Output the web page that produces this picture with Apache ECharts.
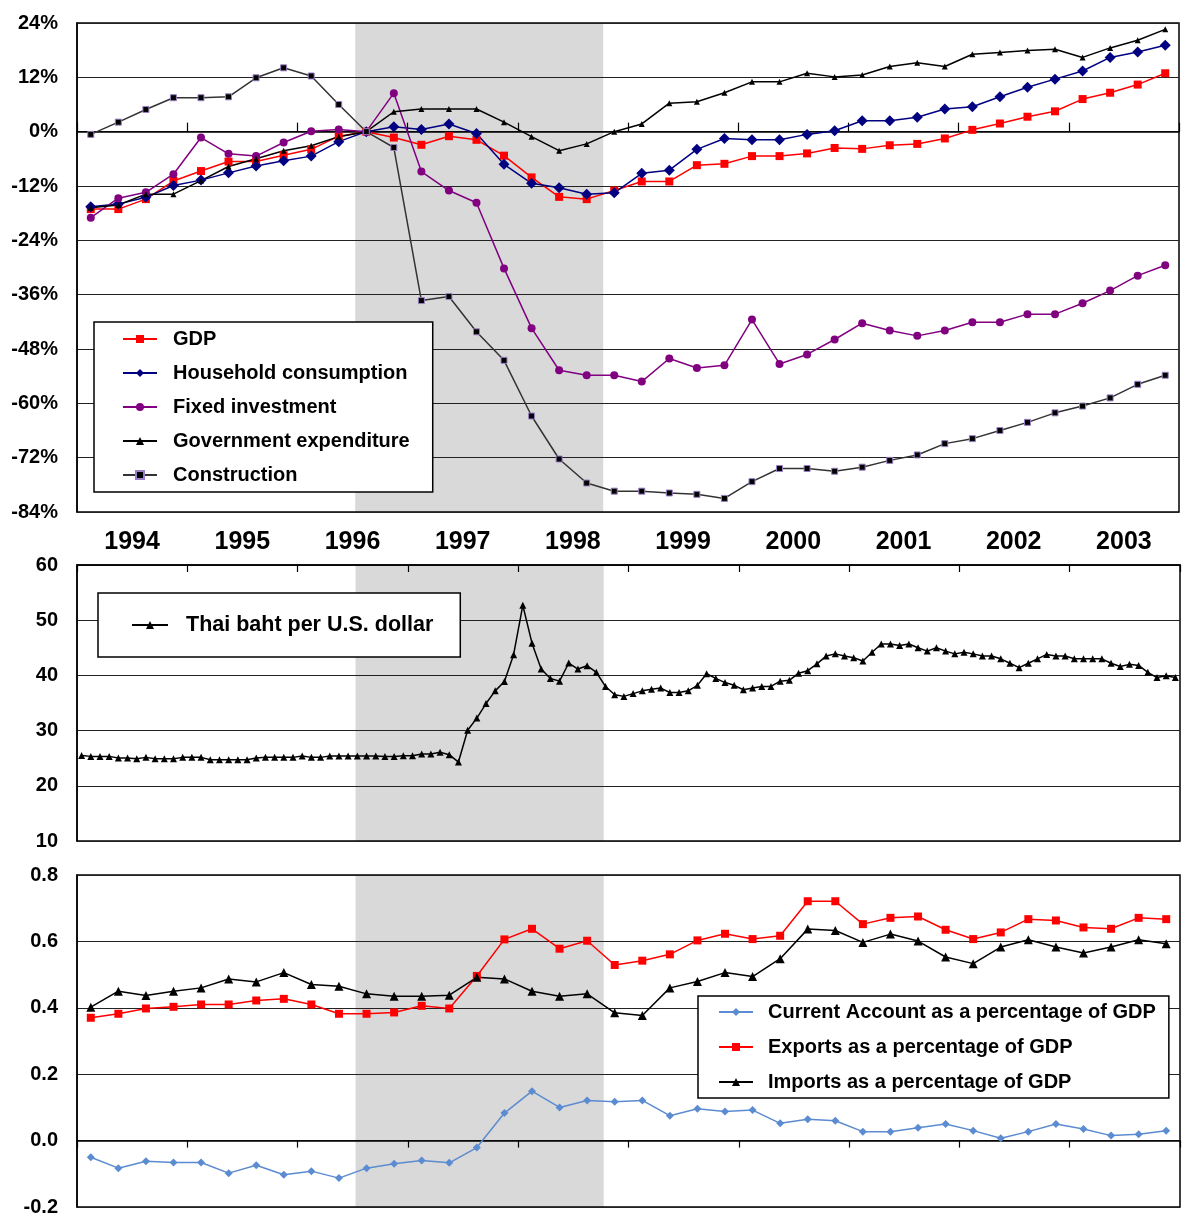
<!DOCTYPE html>
<html>
<head>
<meta charset="utf-8">
<script src="https://cdn.jsdelivr.net/npm/echarts@6/dist/echarts.min.js"></script>
<style>
  html, body { margin: 0; padding: 0; background: #fff; }
  #chart { width: 1182px; height: 1217px; }
</style>
</head>
<body>
<div id="chart"></div>
<script>
// quarterly growth relative to 1996 Q3 (%)
const years = ['1994', '1995', '1996', '1997', '1998', '1999', '2000', '2001', '2002', '2003'];
const gdp = [-17.1, -17.1, -14.9, -10.9, -8.7, -6.6, -6.6, -5.2, -3.9, -1.0, 0, -1.3, -2.9, -1.0, -1.8, -5.3, -10.1, -14.4, -14.9, -13.0, -11.0, -11.0, -7.4, -7.1, -5.4, -5.4, -4.8, -3.6, -3.8, -3.0, -2.7, -1.5, 0.4, 1.8, 3.3, 4.5, 7.2, 8.6, 10.4, 12.9];
const household = [-16.6, -16.0, -14.5, -11.9, -10.7, -9.1, -7.6, -6.4, -5.4, -2.2, 0, 1.1, 0.5, 1.7, -0.4, -7.2, -11.4, -12.4, -13.8, -13.5, -9.2, -8.5, -3.9, -1.5, -1.8, -1.8, -0.6, 0.2, 2.4, 2.4, 3.2, 5.0, 5.5, 7.7, 9.8, 11.6, 13.4, 16.4, 17.6, 19.1];
const fixedInvestment = [-19.0, -14.7, -13.4, -9.4, -1.3, -4.9, -5.4, -2.4, 0.1, 0.5, 0, 8.5, -8.8, -13.0, -15.7, -30.2, -43.4, -52.7, -53.8, -53.8, -55.2, -50.1, -52.2, -51.6, -41.5, -51.3, -49.2, -45.9, -42.3, -43.9, -45.1, -43.9, -42.1, -42.1, -40.3, -40.3, -37.9, -35.1, -31.8, -29.5];
const government = [-16.8, -16.2, -13.8, -13.8, -10.8, -7.7, -6.0, -4.2, -3.1, -1.1, 0, 4.4, 5.0, 5.0, 5.0, 2.1, -1.1, -4.2, -2.7, 0, 1.7, 6.3, 6.6, 8.6, 11.0, 11.0, 12.9, 12.1, 12.5, 14.4, 15.2, 14.4, 17.1, 17.5, 17.9, 18.2, 16.4, 18.5, 20.2, 22.6];
const construction = [-0.6, 2.1, 4.9, 7.5, 7.5, 7.7, 11.9, 14.1, 12.3, 6.0, 0, -3.5, -37.3, -36.4, -44.2, -50.5, -62.8, -72.3, -77.6, -79.4, -79.4, -79.8, -80.1, -81.0, -77.3, -74.4, -74.4, -75.0, -74.1, -72.6, -71.4, -68.9, -67.8, -66.0, -64.2, -62.1, -60.6, -58.8, -55.8, -53.8];

// monthly exchange rate
const baht = [
  25.5, 25.33, 25.33, 25.33, 25.03, 25.03, 24.9, 25.15, 24.9, 24.9, 24.9, 25.15,
  25.15, 25.15, 24.73, 24.73, 24.73, 24.73, 24.73, 25.03, 25.15, 25.15, 25.15, 25.15,
  25.4, 25.15, 25.15, 25.4, 25.4, 25.4, 25.4, 25.4, 25.4, 25.33, 25.33, 25.45,
  25.45, 25.76, 25.76, 26.06, 25.64, 24.3, 30.07, 32.26, 34.9, 37.2, 38.9, 43.76,
  52.7, 45.84, 41.15, 39.45, 38.96, 42.24, 41.15, 41.76, 40.55, 37.99, 36.5, 36.2,
  36.7, 37.2, 37.5, 37.7, 36.9, 36.9, 37.2, 38.2, 40.3, 39.45, 38.7, 38.2,
  37.4, 37.7, 38.0, 38.0, 38.96, 39.1, 40.4, 40.85, 42.1, 43.5, 43.9, 43.5,
  43.2, 42.6, 44.2, 45.7, 45.7, 45.4, 45.7, 45.0, 44.4, 45.0, 44.4, 43.9,
  44.2, 43.9, 43.5, 43.5, 43.0, 42.2, 41.4, 42.2, 43.0, 43.8, 43.5, 43.5,
  43.0, 43.0, 43.0, 43.0, 42.2, 41.6, 42.0, 41.8, 40.55, 39.6, 39.95, 39.6
];

// quarterly trade ratios
const currentAccount = [-0.050, -0.083, -0.062, -0.066, -0.066, -0.098, -0.074, -0.103, -0.092, -0.113, -0.083, -0.070, -0.060, -0.067, -0.021, 0.083, 0.149, 0.100, 0.121, 0.117, 0.121, 0.075, 0.096, 0.088, 0.092, 0.052, 0.064, 0.060, 0.027, 0.027, 0.039, 0.050, 0.030, 0.007, 0.027, 0.050, 0.035, 0.015, 0.019, 0.030];
const exportsGdp = [0.370, 0.382, 0.398, 0.403, 0.410, 0.410, 0.422, 0.427, 0.410, 0.382, 0.382, 0.386, 0.406, 0.398, 0.496, 0.606, 0.638, 0.578, 0.602, 0.529, 0.542, 0.561, 0.603, 0.623, 0.607, 0.617, 0.721, 0.721, 0.652, 0.671, 0.675, 0.635, 0.607, 0.627, 0.667, 0.663, 0.642, 0.638, 0.671, 0.667];
const importsGdp = [0.402, 0.450, 0.437, 0.450, 0.460, 0.487, 0.478, 0.506, 0.470, 0.465, 0.442, 0.435, 0.435, 0.438, 0.492, 0.487, 0.450, 0.435, 0.442, 0.385, 0.377, 0.460, 0.479, 0.506, 0.494, 0.548, 0.637, 0.633, 0.597, 0.622, 0.601, 0.553, 0.533, 0.583, 0.605, 0.583, 0.565, 0.583, 0.605, 0.593];

// crisis period shading
const crisisStart = 1996.525;
const crisisEnd = 1998.775;

const FONT = "'Liberation Sans', Arial, sans-serif";
const quarterly = (arr) => arr.map((v, i) => [1994 + (i + 0.5) / 4, v]);
const monthly = (arr) => arr.map((v, i) => [1994 + (i + 0.5) / 12, v]);

const chart = echarts.init(document.getElementById('chart'), null, { renderer: 'canvas' });

const grids = [
  { left: 77, right: 2, top: 23, height: 489 },
  { left: 77, right: 2, top: 565, height: 276 },
  { left: 77, right: 2, top: 875, height: 333 }
];

function tickAxis(gridIndex, position) {
  return {
    type: 'value', gridIndex, position, min: 1994, max: 2004, interval: 1,
    axisLine: { show: true, lineStyle: { color: '#000', width: 1.5 } },
    axisTick: { show: true, inside: true, length: position === 'bottom' ? 9 : 7, lineStyle: { color: '#000', width: 1.2 } },
    axisLabel: { show: false },
    splitLine: { show: false },
    z: 1
  };
}

function valueAxis(gridIndex, min, max, interval, fmt) {
  return {
    type: 'value', gridIndex, min, max, interval,
    axisLine: { show: true, lineStyle: { color: '#000', width: 1.5 } },
    axisTick: { show: false },
    axisLabel: { formatter: fmt, color: '#000', fontFamily: FONT, fontWeight: 'bold', fontSize: 20, margin: 19 },
    splitLine: { show: true, lineStyle: { color: '#222', width: 1.2 } },
    z: 1
  };
}

function shade(gridIndex) {
  return {
    type: 'line', name: 'crisis' + gridIndex, xAxisIndex: gridIndex === 0 ? 0 : gridIndex + 1, yAxisIndex: gridIndex,
    data: [], symbol: 'none', silent: true, z: 0.5,
    markArea: {
      silent: true, z: 0.5,
      itemStyle: { color: '#d9d9d9' },
      data: [[{ xAxis: crisisStart }, { xAxis: crisisEnd }]]
    }
  };
}

function line(name, data, xi, yi, color, symbol, size, extra) {
  return Object.assign({
    type: 'line', name, data, xAxisIndex: xi, yAxisIndex: yi,
    symbol, symbolSize: size, showSymbol: true,
    lineStyle: { color, width: 1.5 },
    itemStyle: { color },
    z: 3, animation: false
  }, extra || {});
}

const legendBase = {
  orient: 'vertical', backgroundColor: '#fff', borderColor: '#000', borderWidth: 1.5,
  itemWidth: 34, itemHeight: 10, selectedMode: false,
  textStyle: { color: '#000', fontFamily: FONT, fontWeight: 'bold', fontSize: 20 }
};

const option = {
  animation: false,
  grid: grids.map(g => Object.assign({ show: true, borderColor: '#000', borderWidth: 1.5, backgroundColor: 'transparent', z: 1 }, g)),
  xAxis: [
    tickAxis(0, 'bottom'),
    {
      type: 'value', gridIndex: 0, position: 'bottom', min: 1994, max: 2004, interval: 0.5,
      axisLine: { show: false }, axisTick: { show: false }, splitLine: { show: false },
      axisLabel: {
        color: '#000', fontFamily: FONT, fontWeight: 'bold', fontSize: 25, margin: 18,
        formatter: v => (Math.abs(v % 1 - 0.5) < 1e-6 ? years[Math.floor(v - 1994)] : '')
      }
    },
    tickAxis(1, 'top'),
    tickAxis(2, 'top')
  ],
  yAxis: [
    valueAxis(0, -84, 24, 12, v => v + '%'),
    valueAxis(1, 10, 60, 10, v => String(v)),
    valueAxis(2, -0.2, 0.8, 0.2, v => v.toFixed(1))
  ],
  legend: [
    Object.assign({}, legendBase, {
      left: 94, top: 322, itemGap: 14, padding: [7, 23, 7, 28],
      textStyle: Object.assign({}, legendBase.textStyle, { padding: [0, 0, 0, 11] }),
      data: ['GDP', 'Household consumption', 'Fixed investment', 'Government expenditure', 'Construction']
    }),
    Object.assign({}, legendBase, {
      left: 98, top: 593, padding: [21, 27, 21, 33], itemWidth: 36,
      textStyle: Object.assign({}, legendBase.textStyle, { fontSize: 21.5, padding: [0, 0, 0, 13] }),
      data: ['Thai baht per U.S. dollar']
    }),
    Object.assign({}, legendBase, {
      left: 698, top: 996, itemGap: 15, padding: [6, 13, 6, 20],
      textStyle: Object.assign({}, legendBase.textStyle, { padding: [0, 0, 0, 10] }),
      data: ['Current Account as a percentage of GDP', 'Exports as a percentage of GDP', 'Imports as a percentage of GDP']
    })
  ],
  series: [
    shade(0), shade(1), shade(2),
    line('GDP', quarterly(gdp), 0, 0, '#ff0000', 'rect', 8),
    line('Household consumption', quarterly(household), 0, 0, '#000080', 'diamond', 11),
    line('Fixed investment', quarterly(fixedInvestment), 0, 0, '#800080', 'circle', 8),
    line('Government expenditure', quarterly(government), 0, 0, '#000000', 'triangle', 6),
    line('Construction', quarterly(construction), 0, 0, '#333333', 'rect', 6, {
      itemStyle: { color: '#000', borderColor: '#9a7fc4', borderWidth: 1 }
    }),
    line('Thai baht per U.S. dollar', monthly(baht), 2, 1, '#000000', 'triangle', 7),
    line('Current Account as a percentage of GDP', quarterly(currentAccount), 3, 2, '#5b8bd0', 'diamond', 8),
    line('Exports as a percentage of GDP', quarterly(exportsGdp), 3, 2, '#ff0000', 'rect', 8),
    line('Imports as a percentage of GDP', quarterly(importsGdp), 3, 2, '#000000', 'triangle', 9)
  ]
};

chart.setOption(option);
</script>
</body>
</html>
